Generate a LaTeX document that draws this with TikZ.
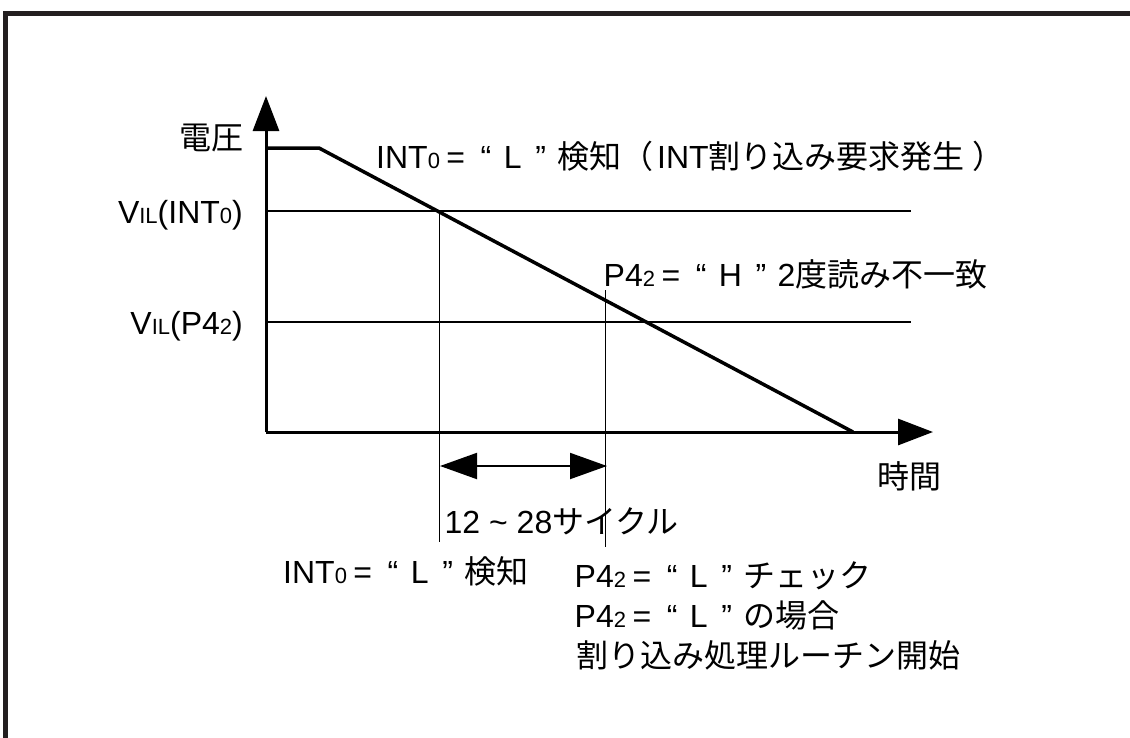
\documentclass[tikz,border=0pt]{standalone}
\usepackage{fontspec}
\setmainfont{Liberation Sans}
\newfontfamily\jp{Noto Sans CJK JP}
\usetikzlibrary{arrows.meta}
\newcommand\smsub[1]{{\fontsize{22}{22}\selectfont #1}}
\newcommand\qeq[1]{\hspace{6.5pt}=\hspace{15.5pt}“\hspace{12.5pt}#1\hspace{13.7pt}”\hspace{11.2pt}}
\definecolor{framecol}{HTML}{231F20}
\begin{document}
\begin{tikzpicture}[x=1pt,y=-1pt,
  lbl/.style={inner sep=0pt, anchor=base west, font=\fontsize{32}{38}\selectfont},
  lblr/.style={inner sep=0pt, anchor=base east, font=\fontsize{32}{38}\selectfont},
  axis/.style={line width=3pt, -{Triangle[length=35pt,width=26pt]}},
  level/.style={line width=2.5pt},
  ramp/.style={line width=3.5pt, line join=round},
  guide/.style={line width=1pt},
  span/.style={line width=2pt, {Triangle[length=37pt,width=26pt]}-{Triangle[length=37pt,width=26pt]}},
  frame/.style={line width=5pt, draw=framecol}]
\useasboundingbox (0,0) rectangle (1130,737);
% frame (top and left edges)
\coordinate (fTL) at (5,13);
\coordinate (fTR) at (1135,13);
\coordinate (fBL) at (5,745);
\draw[frame] (fBL) -- (fTL) -- (fTR);
% axes
\coordinate (O) at (266,432);
\coordinate (Ytop) at (266,96);
\coordinate (Xend) at (933,432);
\draw[axis] (O) -- (Ytop);
\draw[axis] (O) -- (Xend);
% level lines
\coordinate (L1a) at (266,211);
\coordinate (L1b) at (911,211);
\coordinate (L2a) at (266,322);
\coordinate (L2b) at (911,322);
\draw[level] (L1a) -- (L1b);
\draw[level] (L2a) -- (L2b);
% voltage ramp
\coordinate (R0) at (266,148);
\coordinate (R1) at (319,148);
\coordinate (R2) at (853,432);
\draw[ramp] (R0) -- (R1) -- (R2);
% guides
\coordinate (G1t) at (439,211);
\coordinate (G1b) at (439,542);
\coordinate (G2t) at (605,290);
\coordinate (G2b) at (605,547);
\draw[guide] (G1t) -- (G1b);
\draw[guide] (G2t) -- (G2b);
% span arrow
\coordinate (S1) at (440,466);
\coordinate (S2) at (607,466);
\draw[span] (S1) -- (S2);
% labels
\node[lblr] (volt) at (244,149) {\jp 電圧};
\node[lblr] (vil1) at (243,223) {V\smsub{IL}(INT\smsub{0})};
\node[lblr] (vil2) at (243,334) {V\smsub{IL}(P4\smsub{2})};
\node[lbl] (top) at (376,168) {INT\smsub{0}\qeq{L}{\jp 検知（\hspace{4pt}}INT{\jp 割り込み要求発生\hspace{8pt}）}};
\node[lbl] (mid) at (603.5,286) {P4\smsub{2}\qeq{H}2{\jp 度読み不一致}};
\node[lbl] (time) at (877,488) {\jp 時間};
\node[lbl] (cyc) at (444.5,533) {12 \textasciitilde\ 28{\jp サイクル}};
\node[lbl] (int) at (283,583) {INT\smsub{0}\qeq{L}{\jp 検知}};
\node[lbl] (chk1) at (574.5,587) {P4\smsub{2}\qeq{L}{\jp チェック}};
\node[lbl] (chk2) at (574.5,627) {P4\smsub{2}\qeq{L}{\jp の場合}};
\node[lbl] (chk3) at (576,667) {\jp 割り込み処理ルーチン開始};
\end{tikzpicture}
\end{document}
